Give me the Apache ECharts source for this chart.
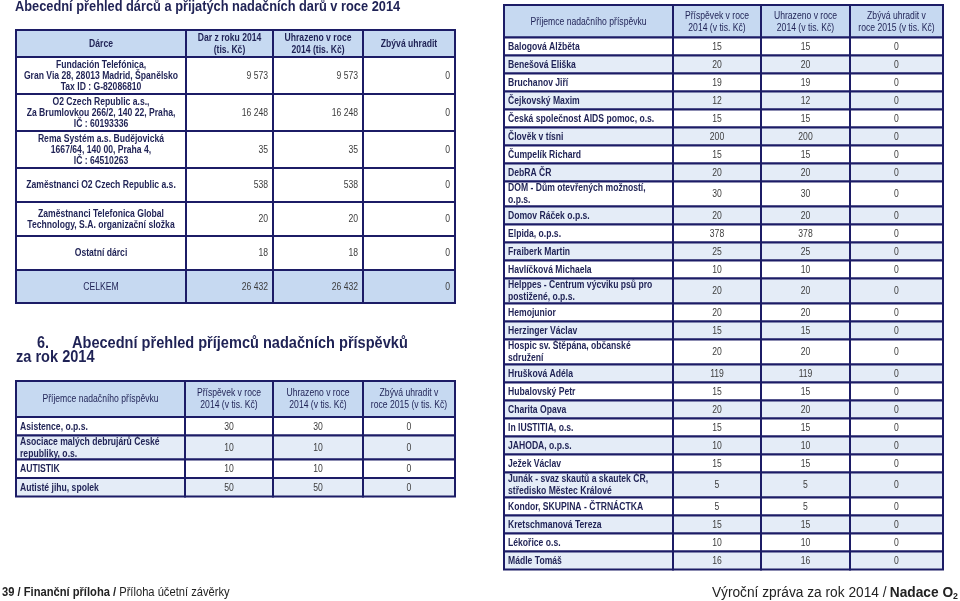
<!DOCTYPE html>
<html>
<head>
<meta charset="utf-8">
<script src="https://cdn.jsdelivr.net/npm/echarts@6/dist/echarts.min.js"></script>
<style>
  html, body { margin: 0; padding: 0; background: #fff; }
  #main { width: 960px; height: 601px; }
</style>
</head>
<body>
<div id="main"></div>
<script>
// --- data ---
const donorHeader = ['Dárce', 'Dar z roku 2014\n(tis. Kč)', 'Uhrazeno v roce\n2014 (tis. Kč)', 'Zbývá uhradit']
const donorNames = [
  'Fundación Telefónica,\nGran Via 28, 28013 Madrid, Španělsko\nTax ID : G-82086810',
  'O2 Czech Republic a.s.,\nZa Brumlovkou 266/2, 140 22, Praha,\nIČ : 60193336',
  'Rema Systém a.s. Budějovická\n1667/64, 140 00, Praha 4,\nIČ : 64510263',
  'Zaměstnanci O2 Czech Republic a.s.',
  'Zaměstnanci Telefonica Global\nTechnology, S.A. organizační složka',
  'Ostatní dárci'
]
const donorGift = [9573, 16248, 35, 538, 20, 18]
const donorPaid = [9573, 16248, 35, 538, 20, 18]
const donorLeft = [0, 0, 0, 0, 0, 0]
const donorTotal = [26432, 26432, 0]

const recHeader = ['Příjemce nadačního příspěvku', 'Příspěvek v roce\n2014 (v tis. Kč)', 'Uhrazeno v roce\n2014 (v tis. Kč)', 'Zbývá uhradit v\nroce 2015 (v tis. Kč)']

const recNamesA = ['Asistence, o.p.s.', 'Asociace malých debrujárů České\nrepubliky, o.s.', 'AUTISTIK', 'Autisté jihu, spolek']
const recGiftA = [30, 10, 10, 50]
const recPaidA = [30, 10, 10, 50]
const recLeftA = [0, 0, 0, 0]

const recNamesB = [
  'Balogová Alžběta', 'Benešová Eliška', 'Bruchanov Jiří', 'Čejkovský Maxim',
  'Česká společnost AIDS pomoc, o.s.', 'Člověk v tísni', 'Čumpelík Richard', 'DebRA ČR',
  'DOM - Dům otevřených možností,\no.p.s.', 'Domov Ráček o.p.s.', 'Elpida, o.p.s.', 'Fraiberk Martin',
  'Havlíčková Michaela', 'Helppes - Centrum výcviku psů pro\npostižené, o.p.s.', 'Hemojunior', 'Herzinger Václav',
  'Hospic sv. Štěpána, občanské\nsdružení', 'Hrušková Adéla', 'Hubalovský Petr', 'Charita Opava',
  'In IUSTITIA, o.s.', 'JAHODA, o.p.s.', 'Ježek Václav', 'Junák - svaz skautů a skautek ČR,\nstředisko Městec Králové',
  'Kondor, SKUPINA - ČTRNÁCTKA', 'Kretschmanová Tereza', 'Lékořice o.s.', 'Mádle Tomáš'
]
const recGiftB = [15, 20, 19, 12, 15, 200, 15, 20, 30, 20, 378, 25, 10, 20, 20, 15, 20, 119, 15, 20, 15, 10, 15, 5, 5, 15, 10, 16]
const recPaidB = [15, 20, 19, 12, 15, 200, 15, 20, 30, 20, 378, 25, 10, 20, 20, 15, 20, 119, 15, 20, 15, 10, 15, 5, 5, 15, 10, 16]
const recLeftB = [0, 0, 0, 0, 0, 0, 0, 0, 0, 0, 0, 0, 0, 0, 0, 0, 0, 0, 0, 0, 0, 0, 0, 0, 0, 0, 0, 0]

// --- style ---
const NAVY = '#1c1c66'
const TXT = '#1f2255'
const VAL = '#3c3c3c'
const HEAD = '#c6d9f1'
const ALT = '#e4ecf7'
const FONT = '"Liberation Sans", Arial, sans-serif'
const SX = 0.86

function fmt (n) {
  return String(n).replace(/\B(?=(\d{3})+(?!\d))/g, ' ')
}

let grid = []
let xAxis = []
let yAxis = []
let series = []

function addTable (box, colWidths, rowHeights, cells) {
  let idx = grid.length
  let colEdges = [0]
  colWidths.forEach(w => colEdges.push(colEdges[colEdges.length - 1] + w))
  let rowEdges = [0]
  rowHeights.forEach(h => rowEdges.push(rowEdges[rowEdges.length - 1] + h))
  let width = colEdges[colEdges.length - 1]
  let height = rowEdges[rowEdges.length - 1]

  grid.push({ left: box[0], top: box[1], width: width, height: height })
  xAxis.push({ type: 'value', gridIndex: idx, min: 0, max: width, show: false })
  yAxis.push({ type: 'value', gridIndex: idx, min: 0, max: height, inverse: true, show: false })
  series.push({
    type: 'custom',
    xAxisIndex: idx,
    yAxisIndex: idx,
    silent: true,
    data: cells.map(c => [colEdges[c.col], rowEdges[c.row]]),
    renderItem: function (params, api) {
      let c = cells[params.dataIndex]
      let p0 = api.coord([colEdges[c.col], rowEdges[c.row]])
      let p1 = api.coord([colEdges[c.col + 1], rowEdges[c.row + 1]])
      let tx = (p0[0] + p1[0]) / 2
      if (c.align === 'left') tx = p0[0] + 4
      if (c.align === 'right') tx = p1[0] - 5
      return {
        type: 'group',
        children: [
          {
            type: 'rect',
            shape: { x: p0[0], y: p0[1], width: p1[0] - p0[0], height: p1[1] - p0[1] },
            style: { fill: c.fill, stroke: NAVY, lineWidth: 2 }
          },
          {
            type: 'text',
            x: tx,
            y: (p0[1] + p1[1]) / 2 + 0.5,
            scaleX: SX,
            style: {
              text: c.text,
              font: c.font,
              fill: c.color,
              align: c.align,
              verticalAlign: 'middle',
              lineHeight: c.lh || 12
            }
          }
        ]
      }
    }
  })
}

// donors table
let donorCells = []
donorHeader.forEach((t, i) => donorCells.push({ col: i, row: 0, text: t, fill: HEAD, font: 'bold 10px ' + FONT, color: TXT, align: 'center', lh: 12 }))
donorNames.forEach((name, r) => {
  let vals = [donorGift[r], donorPaid[r], donorLeft[r]]
  donorCells.push({ col: 0, row: r + 1, text: name, fill: '#fff', font: 'bold 10px ' + FONT, color: TXT, align: 'center', lh: 11 })
  vals.forEach((v, i) => donorCells.push({ col: i + 1, row: r + 1, text: fmt(v), fill: '#fff', font: '10px ' + FONT, color: VAL, align: 'right' }))
})
donorCells.push({ col: 0, row: 7, text: 'CELKEM', fill: HEAD, font: '10px ' + FONT, color: TXT, align: 'center' })
donorTotal.forEach((v, i) => donorCells.push({ col: i + 1, row: 7, text: fmt(v), fill: HEAD, font: '10px ' + FONT, color: VAL, align: 'right' }))
addTable([16, 30], [170, 87, 90, 92], [27, 37, 37, 37, 34, 34, 34, 33], donorCells)

function recipientCells (names, gift, paid, left) {
  let cells = []
  recHeader.forEach((t, i) => cells.push({ col: i, row: 0, text: t, fill: HEAD, font: '10px ' + FONT, color: TXT, align: 'center', lh: 12 }))
  names.forEach((name, r) => {
    let fill = r % 2 === 0 ? '#fff' : ALT
    cells.push({ col: 0, row: r + 1, text: name, fill: fill, font: 'bold 10px ' + FONT, color: TXT, align: 'left', lh: 12 })
    ;[gift[r], paid[r], left[r]].forEach((v, i) => cells.push({ col: i + 1, row: r + 1, text: fmt(v), fill: fill, font: '10px ' + FONT, color: VAL, align: 'center' }))
  })
  return cells
}

function rowHeightsFor (names, header, single, double) {
  return [header].concat(names.map(n => n.indexOf('\n') >= 0 ? double : single))
}

addTable([16, 381], [169, 88, 90, 92], rowHeightsFor(recNamesA, 36, 18.5, 24), recipientCells(recNamesA, recGiftA, recPaidA, recLeftA))
addTable([504, 5], [169, 88, 89, 93], rowHeightsFor(recNamesB, 32.5, 18, 25), recipientCells(recNamesB, recGiftB, recPaidB, recLeftB))

let myChart = echarts.init(document.getElementById('main'))
myChart.setOption({
  backgroundColor: '#fff',
  animation: false,
  grid: grid,
  xAxis: xAxis,
  yAxis: yAxis,
  series: series,
  graphic: [
    {
      type: 'text', x: 15, y: 7.5, scaleX: 0.915,
      style: { text: 'Abecední přehled dárců a přijatých nadačních darů v roce 2014', font: 'bold 14px ' + FONT, fill: TXT, verticalAlign: 'middle' }
    },
    {
      type: 'text', x: 37, y: 344, scaleX: 0.9,
      style: { text: '6.', font: 'bold 16px ' + FONT, fill: TXT, verticalAlign: 'middle' }
    },
    {
      type: 'text', x: 72, y: 344, scaleX: 0.91,
      style: { text: 'Abecední přehled příjemců nadačních příspěvků', font: 'bold 16px ' + FONT, fill: TXT, verticalAlign: 'middle' }
    },
    {
      type: 'text', x: 16, y: 358, scaleX: 0.91,
      style: { text: 'za rok 2014', font: 'bold 16px ' + FONT, fill: TXT, verticalAlign: 'middle' }
    },
    {
      type: 'text', x: 2, y: 593, scaleX: 0.93,
      style: {
        text: '{b|39 / Finanční příloha /} {r|Příloha účetní závěrky}',
        verticalAlign: 'middle',
        rich: {
          b: { font: 'bold 12px ' + FONT, fill: '#222' },
          r: { font: '12px ' + FONT, fill: '#222' }
        }
      }
    },
    {
      type: 'text', x: 958, y: 593, scaleX: 0.98,
      style: {
        text: '{r|Výroční zpráva za rok 2014 /} {b|Nadace O}{s|2}',
        align: 'right',
        verticalAlign: 'middle',
        rich: {
          b: { font: 'bold 14px ' + FONT, fill: '#222' },
          r: { font: '14px ' + FONT, fill: '#222' },
          s: { font: 'bold 9px ' + FONT, fill: '#222', padding: [7, 0, 0, 0] }
        }
      }
    }
  ]
})
</script>
</body>
</html>
